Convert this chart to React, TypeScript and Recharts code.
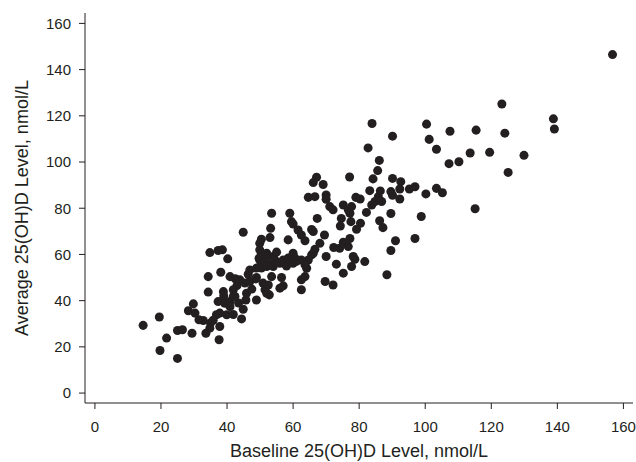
import { ScatterChart, Scatter, XAxis, YAxis, ZAxis } from 'recharts'

// baseline 25(OH)D (x) and average 25(OH)D (y), nmol/L
const baseline = [
  14.6, 19.5, 19.7, 21.7, 25.0, 25.0, 26.5, 28.3, 29.4, 29.8, 30.3, 31.5, 32.8, 33.6, 34.3, 34.3,
  34.8, 35.0, 34.8, 36.8, 37.3, 38.6, 37.8, 37.6, 38.1, 37.8, 37.3, 38.9, 40.2, 39.9, 40.9, 39.3,
  40.9, 41.9, 40.9, 41.9, 41.9, 42.4, 42.5, 43.9, 44.4, 44.9, 44.9, 45.9, 45.7, 46.4, 45.4, 46.9,
  46.9, 48.7, 48.9, 48.9, 49.7, 49.9, 50.4, 49.9, 50.4, 48.9, 50.9, 50.4, 49.9, 50.9, 51.5, 52.0,
  52.8, 53.0, 53.2, 53.5, 52.0, 54.0, 53.5, 54.0, 52.5, 53.0, 52.5, 52.0, 54.5, 56.0, 57.0, 58.5,
  59.0, 56.5, 56.0, 57.0, 58.5, 59.0, 59.5, 60.0, 60.0, 60.6, 60.0, 61.5, 62.5, 63.6, 62.5, 62.5,
  63.6, 62.5, 64.1, 64.6, 63.6, 65.6, 64.6, 66.6, 66.1, 67.1, 66.1, 65.6, 66.1, 66.6, 67.3, 68.1,
  69.1, 69.5, 70.0, 69.7, 72.1, 71.1, 72.1, 70.0, 70.0, 77.1, 72.3, 74.1, 75.2, 76.7, 77.2, 73.1,
  75.2, 77.7, 78.2, 78.7, 81.7, 74.3, 74.6, 75.2, 76.7, 77.7, 77.2, 77.5, 79.0, 80.3, 80.4, 79.2,
  82.2, 83.2, 83.8, 84.8, 85.8, 86.4, 86.8, 84.2, 85.6, 86.1, 82.7, 83.9, 86.2, 87.2, 88.4, 89.6,
  91.0, 89.6, 90.1, 89.6, 90.1, 92.3, 92.6, 92.3, 95.2, 96.9, 96.9, 98.8, 100.2, 103.4, 105.2, 90.1,
  100.4, 101.2, 103.4, 107.5, 107.2, 110.2, 113.6, 115.4, 115.1, 119.5, 123.2, 124.1, 125.1, 129.9, 138.8, 139.1,
  156.7, 55.5, 57.5, 61.0, 51.5, 47.5, 43.0, 39.0, 35.8, 43.5, 58.0, 55.0,
]
const average = [
  29.3, 32.9, 18.4, 23.8, 15.0, 27.1, 27.4, 35.6, 25.9, 38.6, 34.6, 31.7, 31.4, 25.9, 50.4, 43.7,
  60.8, 30.3, 28.1, 33.9, 61.7, 62.0, 28.8, 23.1, 52.3, 34.6, 39.6, 43.9, 58.1, 33.9, 39.6, 38.9,
  37.4, 41.8, 50.4, 44.7, 34.0, 41.8, 49.5, 49.0, 32.1, 36.3, 69.6, 43.2, 40.3, 51.4, 47.6, 53.3,
  48.3, 49.4, 40.3, 50.0, 58.4, 64.8, 66.6, 57.6, 54.1, 54.1, 55.5, 60.5, 62.0, 47.6, 44.7, 54.8,
  42.5, 67.3, 71.3, 77.8, 60.5, 59.1, 50.4, 54.8, 59.1, 55.5, 46.8, 43.2, 57.6, 56.2, 57.6, 58.4,
  56.9, 50.0, 45.4, 46.4, 66.3, 77.8, 74.2, 73.2, 60.5, 58.4, 56.2, 70.6, 68.4, 65.9, 44.7, 49.0,
  50.4, 57.6, 54.0, 57.6, 55.5, 59.8, 84.7, 85.0, 91.1, 93.4, 69.9, 70.8, 60.5, 62.2, 75.6, 64.8,
  90.3, 68.4, 59.1, 48.3, 46.8, 80.7, 79.3, 85.7, 83.9, 93.5, 63.0, 62.7, 65.3, 63.4, 66.9, 55.8,
  51.9, 54.8, 59.1, 57.9, 56.9, 72.3, 75.6, 81.4, 79.3, 80.7, 77.8, 74.2, 84.7, 84.0, 73.5, 70.9,
  78.2, 87.6, 81.4, 82.9, 85.0, 87.5, 82.9, 92.7, 96.3, 100.7, 106.1, 116.7, 74.6, 71.6, 51.2, 61.7,
  65.9, 77.7, 92.9, 87.2, 85.6, 84.0, 91.5, 88.3, 88.3, 89.3, 66.9, 76.4, 86.2, 88.6, 86.7, 111.2,
  116.4, 109.8, 105.5, 113.3, 99.3, 100.1, 103.9, 113.8, 79.8, 104.2, 125.1, 112.5, 95.5, 102.9, 118.7, 114.3,
  146.5, 56.5, 56.0, 57.0, 57.5, 45.0, 46.5, 42.0, 31.5, 39.0, 55.0, 61.0,
]

const xTicks = [0, 20, 40, 60, 80, 100, 120, 140, 160]
const yTicks = [0, 20, 40, 60, 80, 100, 120, 140, 160]

const data = baseline.map((b, i) => ({ baseline: b, average: average[i] }))

const ink = '#231f20'
const font = '"Liberation Sans", Arial, Helvetica, sans-serif'

export default function App() {
  return (
    <div style={{ position: 'absolute', left: 0, top: 0 }}>
      <ScatterChart
        width={636}
        height={462}
        margin={{ top: 13, right: 3, bottom: 0, left: 15 }}
      >
        <XAxis
          type="number"
          dataKey="baseline"
          domain={[-3, 162.9]}
          ticks={xTicks}
          height={59}
          tickSize={6}
          tickMargin={12}
          stroke={ink}
          tick={{ fill: ink, fontSize: 15, fontFamily: font }}
          label={{
            content: () => (
              <text
                x={359}
                y={457}
                textAnchor="middle"
                fill={ink}
                fontSize={18}
                fontFamily={font}
              >
                Baseline 25(OH)D Level, nmol/L
              </text>
            ),
          }}
        />
        <YAxis
          type="number"
          dataKey="average"
          domain={[-4.3, 164.5]}
          ticks={yTicks}
          width={70}
          tickSize={6}
          tickMargin={8}
          stroke={ink}
          tick={{ fill: ink, fontSize: 15, fontFamily: font }}
          label={{
            content: () => (
              <text
                x={28}
                y={208}
                transform="rotate(-90 28 208)"
                textAnchor="middle"
                fill={ink}
                fontSize={18}
                fontFamily={font}
              >
                Average 25(OH)D Level, nmol/L
              </text>
            ),
          }}
        />
        <ZAxis range={[60, 60]} />
        <Scatter data={data} fill={ink} isAnimationActive={false} />
      </ScatterChart>
    </div>
  )
}
